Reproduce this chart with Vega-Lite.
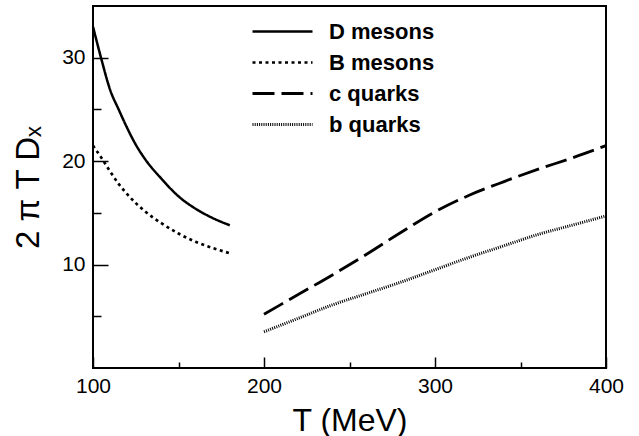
{
  "$schema": "https://vega.github.io/schema/vega-lite/v6.json",
  "width": 513,
  "height": 362,
  "autosize": "none",
  "padding": {"left": 93, "top": 6, "right": 33, "bottom": 68},
  "background": "white",
  "config": {
    "font": "Liberation Sans",
    "view": {"stroke": "black", "strokeWidth": 2}
  },
  "data": {
    "values": [
      {"series": "D mesons", "T": 100, "v": 33.0},
      {"series": "D mesons", "T": 105, "v": 29.8},
      {"series": "D mesons", "T": 110, "v": 26.9},
      {"series": "D mesons", "T": 115, "v": 25.0},
      {"series": "D mesons", "T": 120, "v": 23.2},
      {"series": "D mesons", "T": 125, "v": 21.6},
      {"series": "D mesons", "T": 130, "v": 20.3},
      {"series": "D mesons", "T": 140, "v": 18.3},
      {"series": "D mesons", "T": 150, "v": 16.6},
      {"series": "D mesons", "T": 160, "v": 15.4},
      {"series": "D mesons", "T": 170, "v": 14.5},
      {"series": "D mesons", "T": 180, "v": 13.8},
      {"series": "B mesons", "T": 100, "v": 21.5},
      {"series": "B mesons", "T": 105, "v": 20.3},
      {"series": "B mesons", "T": 110, "v": 19.0},
      {"series": "B mesons", "T": 115, "v": 17.8},
      {"series": "B mesons", "T": 120, "v": 16.8},
      {"series": "B mesons", "T": 130, "v": 15.2},
      {"series": "B mesons", "T": 140, "v": 14.0},
      {"series": "B mesons", "T": 150, "v": 13.0},
      {"series": "B mesons", "T": 160, "v": 12.2},
      {"series": "B mesons", "T": 170, "v": 11.6},
      {"series": "B mesons", "T": 180, "v": 11.1},
      {"series": "c quarks", "T": 200, "v": 5.2},
      {"series": "c quarks", "T": 220, "v": 7.1},
      {"series": "c quarks", "T": 240, "v": 9.0},
      {"series": "c quarks", "T": 260, "v": 11.0},
      {"series": "c quarks", "T": 280, "v": 13.1},
      {"series": "c quarks", "T": 300, "v": 15.1},
      {"series": "c quarks", "T": 320, "v": 16.7},
      {"series": "c quarks", "T": 340, "v": 18.0},
      {"series": "c quarks", "T": 360, "v": 19.2},
      {"series": "c quarks", "T": 380, "v": 20.3},
      {"series": "c quarks", "T": 400, "v": 21.5},
      {"series": "b quarks", "T": 200, "v": 3.5},
      {"series": "b quarks", "T": 220, "v": 4.8},
      {"series": "b quarks", "T": 240, "v": 6.1},
      {"series": "b quarks", "T": 260, "v": 7.2},
      {"series": "b quarks", "T": 280, "v": 8.3},
      {"series": "b quarks", "T": 300, "v": 9.5},
      {"series": "b quarks", "T": 320, "v": 10.7},
      {"series": "b quarks", "T": 340, "v": 11.8},
      {"series": "b quarks", "T": 360, "v": 12.9},
      {"series": "b quarks", "T": 380, "v": 13.8},
      {"series": "b quarks", "T": 400, "v": 14.7}
    ]
  },
  "mark": {"type": "line", "interpolate": "monotone", "color": "black"},
  "encoding": {
    "x": {
      "field": "T",
      "type": "quantitative",
      "scale": {"domain": [100, 400], "nice": false},
      "axis": {
        "values": [100, 150, 200, 250, 300, 350, 400],
        "labelExpr": "datum.value % 100 === 0 ? datum.label : ''",
        "grid": false,
        "domain": false,
        "tickColor": "black",
        "tickWidth": 1.5,
        "tickSize": {"expr": "datum.value % 100 === 0 ? -11 : -6"},
        "labelFontSize": 21,
        "labelColor": "black",
        "labelPadding": 18,
        "labelFlush": false,
        "title": "T (MeV)",
        "titleFontSize": 32,
        "titleFontWeight": "normal",
        "titleColor": "black",
        "titlePadding": 9
      }
    },
    "y": {
      "field": "v",
      "type": "quantitative",
      "scale": {"domain": [0, 35], "nice": false},
      "axis": {
        "values": [5, 10, 15, 20, 25, 30],
        "labelExpr": "datum.value % 10 === 0 ? datum.label : ''",
        "grid": false,
        "domain": false,
        "tickColor": "black",
        "tickWidth": 1.5,
        "tickSize": {"expr": "datum.value % 10 === 0 ? -15 : -8"},
        "labelFontSize": 21,
        "labelColor": "black",
        "labelPadding": 23,
        "title": "2 π T Dₓ",
        "titleFontSize": 33,
        "titleFontWeight": "normal",
        "titleColor": "black",
        "titlePadding": 16
      }
    },
    "strokeDash": {
      "field": "series",
      "type": "nominal",
      "scale": {
        "domain": ["D mesons", "B mesons", "c quarks", "b quarks"],
        "range": [[1, 0], [3, 3.5], [22, 7], [1, 1.2]]
      },
      "legend": {
        "orient": "none",
        "legendX": 158,
        "legendY": 10,
        "title": null,
        "symbolType": "stroke",
        "symbolSize": 3600,
        "symbolStrokeColor": "black",
        "symbolStrokeWidth": 2.5,
        "labelFontSize": 22,
        "labelFontWeight": "bold",
        "labelColor": "black",
        "labelOffset": 15,
        "clipHeight": 31,
        "rowPadding": 0
      }
    },
    "strokeWidth": {
      "field": "series",
      "type": "nominal",
      "scale": {
        "domain": ["D mesons", "B mesons", "c quarks", "b quarks"],
        "range": [2.5, 3, 3, 2]
      },
      "legend": null
    }
  }
}
